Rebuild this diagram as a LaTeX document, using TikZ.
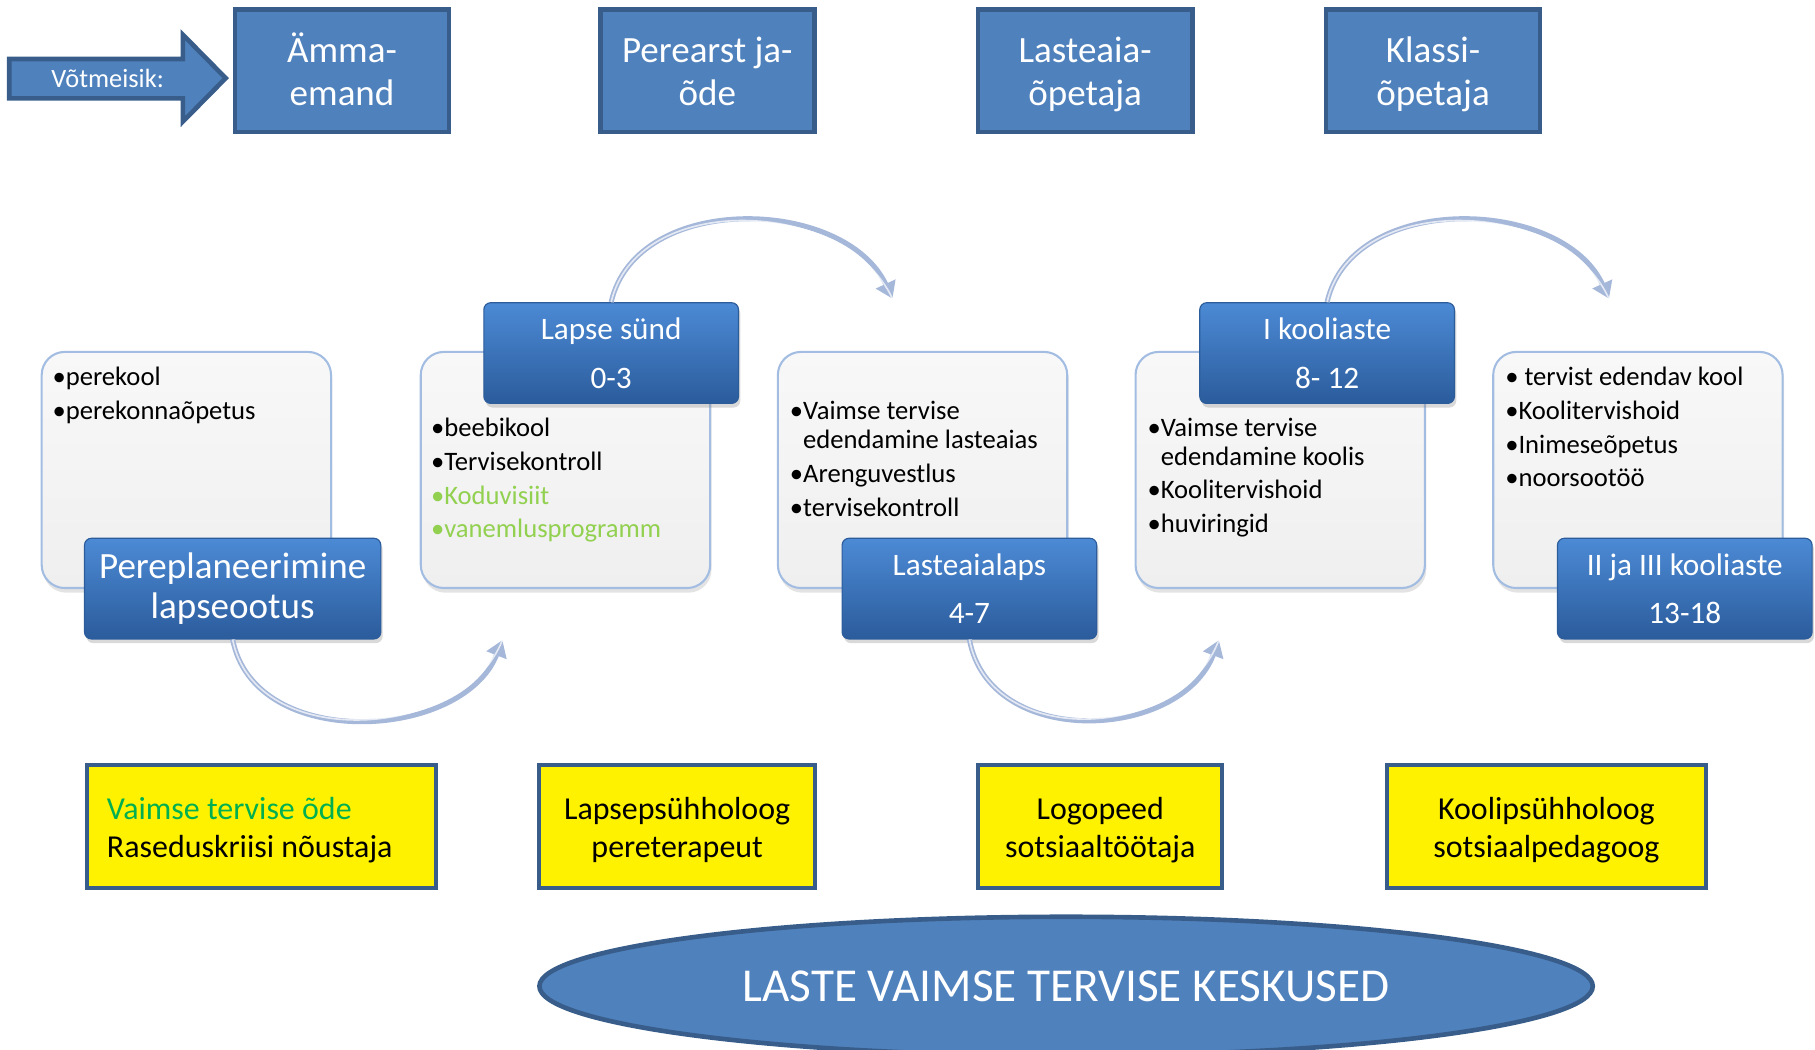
\documentclass[tikz,border=0pt]{standalone}
\usepackage{fontspec}
\setmainfont{Carlito}
\usetikzlibrary{shadows,arrows.meta,shapes.geometric}
\definecolor{topblue}{HTML}{4F81BD}
\definecolor{topedge}{HTML}{385D8A}
\definecolor{labtop}{HTML}{4C8AD5}
\definecolor{labbot}{HTML}{2B5C9C}
\definecolor{labedge}{HTML}{2C5C9A}
\definecolor{boxtop}{HTML}{F8F8F8}
\definecolor{boxbot}{HTML}{EFEFEF}
\definecolor{boxedge}{HTML}{A3BDE2}
\definecolor{arrc}{HTML}{A5B8DA}
\definecolor{litegreen}{HTML}{92D050}
\definecolor{darkgreen}{HTML}{00B050}
\newcommand{\topstrut}{\rule{0pt}{17pt}}
\begin{document}
\begin{tikzpicture}[x=0.5pt,y=-0.5pt,
  keyperson/.style={draw=topedge, line width=2pt, fill=topblue, minimum width=92.5pt, minimum height=53pt,
    text=white, align=center, font=\fontsize{16}{18.5}\selectfont, inner sep=0pt},
  infobox/.style={draw=boxedge, line width=0.9pt, rounded corners=10pt, top color=boxtop, bottom color=boxbot,
    minimum width=125pt, minimum height=102pt, inner sep=0pt,
    drop shadow={opacity=0.22, shadow xshift=0.6pt, shadow yshift=-2pt}},
  infotext/.style={anchor=base west, inner sep=0pt, font=\fontsize{11.5}{14.6}\selectfont},
  stagebox/.style={draw=labedge, line width=0.5pt, rounded corners=3pt, top color=labtop, bottom color=labbot,
    text=white, align=center, minimum width=110pt, minimum height=43.5pt, inner sep=0pt,
    drop shadow={opacity=0.3, shadow xshift=0.8pt, shadow yshift=-1.8pt}},
  helper/.style={draw=topedge, line width=1.8pt, fill=yellow, minimum height=53pt, inner sep=0pt,
    align=center, font=\fontsize{13.8}{16.5}\selectfont},
  helpertext/.style={inner sep=0pt, align=center, font=\fontsize{13.8}{16.5}\selectfont},
  cyc/.style={draw=arrc, line width=2.2pt, -{Triangle[length=7pt,width=9pt]}},
  cychi/.style={draw=white, opacity=0.7, line width=0.7pt}
]
\useasboundingbox (0,0) rectangle (1568,907);

% key arrow
\draw[draw=topedge, line width=2pt, fill=topblue, line join=miter]
  (8,51) -- (158,51) -- (158,30) -- (195,67.5) -- (158,105) -- (158,85) -- (8,85) -- cycle;
\node[text=white, font=\fontsize{11.4}{13}\selectfont, inner sep=0pt] (vt) at (93,68) {Võtmeisik:};

% key persons
\node[keyperson] (k1) at (295.5,61) {\topstrut Ämma-\\\strut emand};
\node[keyperson] (k2) at (611,61) {\topstrut Perearst ja-\\\strut õde};
\node[keyperson] (k3) at (937.5,61) {\topstrut Lasteaia-\\\strut õpetaja};
\node[keyperson] (k4) at (1238,61) {\topstrut Klassi-\\\strut õpetaja};

% info boxes
\node[infobox] (b1) at (161,406) {};
\node[infobox] (b2) at (488.5,406) {};
\node[infobox] (b3) at (797,406) {};
\node[infobox] (b4) at (1106,406) {};
\node[infobox] (b5) at (1415,406) {};

\node[infotext] (t1) at (45,333) {\begin{tabular}[t]{@{}l@{}}•perekool\\•perekonnaõpetus\end{tabular}};
\node[infotext] (t2) at (372,377) {\begin{tabular}[t]{@{}l@{}}•beebikool\\•Tervisekontroll\\
  \color{litegreen}•Koduvisiit\\\color{litegreen}•vanemlusprogramm\end{tabular}};
\node[infotext] (t3) at (682,362) {\begin{tabular}[t]{@{}l@{}}•Vaimse tervise\\[-1.8pt]
  \hphantom{•}edendamine lasteaias\\•Arenguvestlus\\•tervisekontroll\end{tabular}};
\node[infotext] (t4) at (991,377) {\begin{tabular}[t]{@{}l@{}}•Vaimse tervise\\[-2.2pt]
  \hphantom{•}edendamine koolis\\•Koolitervishoid\\•huviringid\end{tabular}};
\node[infotext] (t5) at (1300,333) {\begin{tabular}[t]{@{}l@{}}• tervist edendav kool\\•Koolitervishoid\\
  •Inimeseõpetus\\•noorsootöö\end{tabular}};

% stage boxes
\node[stagebox, minimum width=128pt, font=\fontsize{16}{17.5}\selectfont] (s1) at (201,508.5) {Pereplaneerimine\\lapseootus};
\node[stagebox, font=\fontsize{13.5}{21}\selectfont] (s2) at (528,305) {Lapse sünd\\0-3};
\node[stagebox, font=\fontsize{13.5}{21}\selectfont] (s3) at (837.5,508.5) {Lasteaialaps\\4-7};
\node[stagebox, font=\fontsize{13.5}{21}\selectfont] (s4) at (1146.5,305) {I kooliaste\\8- 12};
\node[stagebox, font=\fontsize{13.5}{21}\selectfont] (s5) at (1455.5,508.5) {II ja III kooliaste\\13-18};

% cycle arrows
\coordinate (e1) at (434,553);
\coordinate (e2) at (771,258);
\coordinate (e3) at (1053,553);
\coordinate (e4) at (1390,258);
\draw[cyc] (s1.south) .. controls (220,650) and (400,640) .. (e1);
\draw[cychi] (s1.south) .. controls (220,650) and (400,640) .. (e1);
\draw[cyc] (s2.north) .. controls (550,165) and (730,170) .. (e2);
\draw[cychi] (s2.north) .. controls (550,165) and (730,170) .. (e2);
\draw[cyc] (s3.south) .. controls (855,648) and (1020,640) .. (e3);
\draw[cychi] (s3.south) .. controls (855,648) and (1020,640) .. (e3);
\draw[cyc] (s4.north) .. controls (1168,165) and (1350,170) .. (e4);
\draw[cychi] (s4.north) .. controls (1168,165) and (1350,170) .. (e4);

% helpers
\node[helper, minimum width=151pt] (h1) at (226,714) {};
\node[anchor=west, align=left, inner sep=0pt, font=\fontsize{13.8}{16.5}\selectfont] (h1t) at (92,717)
  {\textcolor{darkgreen}{Vaimse tervise õde}\\Raseduskriisi nõustaja};
\node[helper, minimum width=119pt] (h2) at (585,714) {};
\node[helpertext] (h2t) at (585,717) {Lapsepsühholoog\\pereterapeut};
\node[helper, minimum width=105.5pt] (h3) at (950.5,714) {};
\node[helpertext] (h3t) at (950.5,717) {Logopeed\\sotsiaaltöötaja};
\node[helper, minimum width=138pt] (h4) at (1336,714) {};
\node[helpertext] (h4t) at (1336,717) {Koolipsühholoog\\sotsiaalpedagoog};

% centre ellipse
\begin{scope}
\clip (0,0) rectangle (1568,907);
\node[ellipse, draw=topedge, line width=2pt, fill=topblue, minimum width=455pt, minimum height=60pt,
  inner sep=0pt, text=white, font=\fontsize{20.4}{24}\selectfont] (lv) at (921,852) {LASTE VAIMSE TERVISE KESKUSED};
\end{scope}
\end{tikzpicture}
\end{document}
